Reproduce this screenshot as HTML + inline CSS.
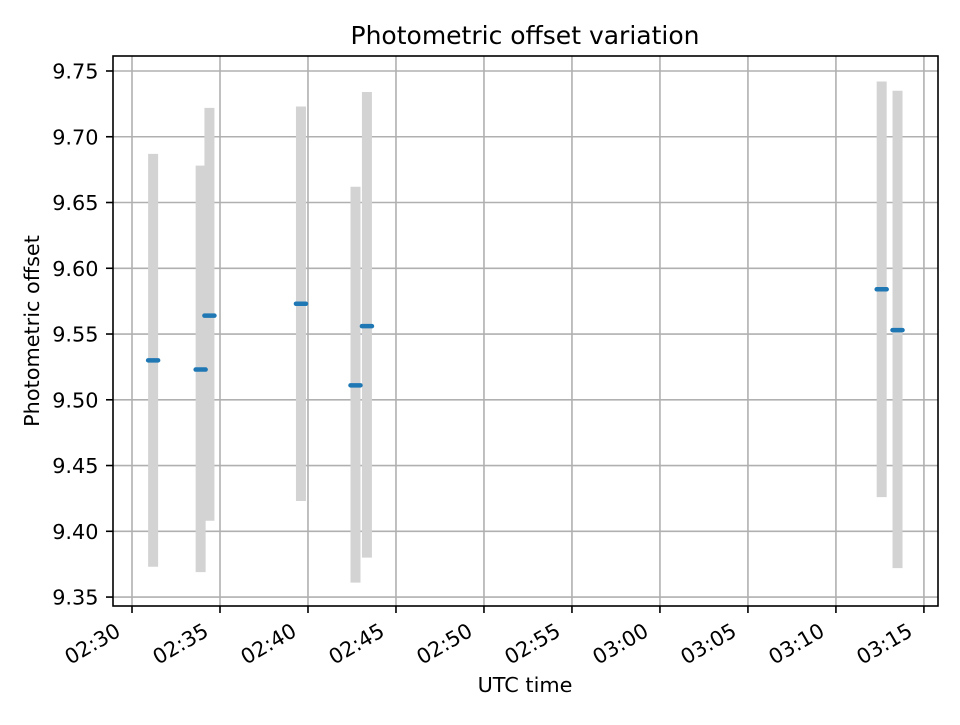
<!DOCTYPE html>
<html><head><meta charset="utf-8"><style>
body{margin:0;background:#fff}
svg text{font-family:"DejaVu Sans","Liberation Sans",sans-serif;fill:#000}
</style></head><body>
<svg id="chart" width="960" height="720" viewBox="0 0 960 720" xmlns="http://www.w3.org/2000/svg">
<rect width="960" height="720" fill="#fff"/>
<g id="grid"></g><g id="marks"></g><g id="axes"></g>
<text x="525" y="44" font-size="25" text-anchor="middle">Photometric offset variation</text>
<text x="525" y="692" font-size="20.8" text-anchor="middle">UTC time</text>
<text transform="translate(39,331) rotate(-90)" font-size="20.8" text-anchor="middle">Photometric offset</text>
</svg>
<script>
// minutes after 02:30
const times = [1.2, 3.9, 4.4, 9.6, 12.7, 13.35, 42.6, 43.5];
const values = [9.530, 9.523, 9.564, 9.573, 9.511, 9.556, 9.584, 9.553];
const lows = [9.373, 9.369, 9.408, 9.423, 9.361, 9.380, 9.426, 9.372];
const highs = [9.687, 9.678, 9.722, 9.723, 9.662, 9.734, 9.742, 9.735];
const yTicks = [9.35, 9.40, 9.45, 9.50, 9.55, 9.60, 9.65, 9.70, 9.75];
const xTicks = [0, 5, 10, 15, 20, 25, 30, 35, 40, 45];
const xTickLabels = ["02:30","02:35","02:40","02:45","02:50","02:55","03:00","03:05","03:10","03:15"];

const L=113,R=938,T=56,B=606;
const xMin=-1.08,xMax=45.8,yMin=9.3432,yMax=9.7614;
const xs=v=>L+(v-xMin)/(xMax-xMin)*(R-L);
const ys=v=>B-(v-yMin)/(yMax-yMin)*(B-T);
const NS="http://www.w3.org/2000/svg";
function mk(p,tag,a){const e=document.createElementNS(NS,tag);for(const k in a)e.setAttribute(k,a[k]);p.appendChild(e);return e;}
const grid=document.getElementById('grid'),marks=document.getElementById('marks'),axes=document.getElementById('axes');
yTicks.forEach((t,i)=>{const y=ys(t);
 const g=mk(grid,'line',{x1:L,x2:R,y1:y,y2:y,stroke:'#b0b0b0','stroke-width':1.6});
 
 
 const tk=mk(axes,'line',{x1:L-7,x2:L,y1:y,y2:y,stroke:'#000','stroke-width':1.6});
 
 
 const tx=mk(axes,'text',{x:L-14.5,y:y+7.5,'font-size':20.8,'text-anchor':'end'});
 tx.textContent=t.toFixed(2);
 
 
});
xTicks.forEach((t,i)=>{const x=xs(t);
 const g=mk(grid,'line',{x1:x,x2:x,y1:T,y2:B,stroke:'#b0b0b0','stroke-width':1.6});
 
 
 const tk=mk(axes,'line',{x1:x,x2:x,y1:B,y2:B+7,stroke:'#000','stroke-width':1.6});
 
 
 const tx=mk(axes,'text',{x:0,y:0,'font-size':20.8,'text-anchor':'end',transform:`translate(${x-10},${B+29}) rotate(-30)`});
 tx.textContent=xTickLabels[i];
 
 
});
times.forEach((t,i)=>{const x=xs(t);
 const e=mk(marks,'line',{x1:x,x2:x,y1:ys(highs[i]),y2:ys(lows[i]),stroke:'#d3d3d3','stroke-width':10});
 
 
});
times.forEach((t,i)=>{const x=xs(t),y=ys(values[i]);
 const m=mk(marks,'line',{x1:x-5,x2:x+5,y1:y,y2:y,stroke:'#1f77b4','stroke-width':4.5,'stroke-linecap':'round'});
 
 
});
const fr=mk(axes,'rect',{x:L,y:T,width:R-L,height:B-T,fill:'none',stroke:'#000','stroke-width':1.6});


</script>
</body></html>
